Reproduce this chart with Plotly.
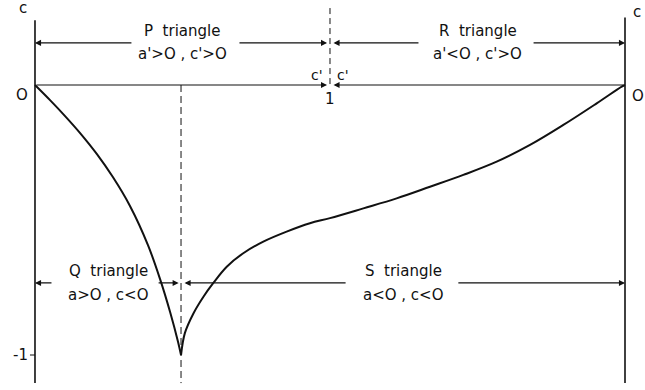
import plotly.graph_objects as go

# Curve c(x): descending branch from the origin down to the cusp ...
left_x = [0.0, 0.051, 0.102, 0.153, 0.210, 0.264, 0.322, 0.383, 0.424, 0.458, 0.485, 0.495]
left_y = [0.0, -0.056, -0.115, -0.178, -0.256, -0.341, -0.448, -0.593, -0.719, -0.841, -0.952, -1.0]
# ... and rising branch from the cusp back to c = 0 at x = 2
right_x = [0.495, 0.508, 0.537, 0.571, 0.604, 0.650, 0.706, 0.774, 0.853, 0.932, 1.0,
           1.113, 1.226, 1.339, 1.452, 1.565, 1.678, 1.791, 1.904, 1.989, 2.0]
right_y = [-1.0, -0.919, -0.846, -0.784, -0.734, -0.673, -0.623, -0.580, -0.543, -0.512, -0.493,
           -0.457, -0.420, -0.377, -0.333, -0.284, -0.222, -0.148, -0.068, -0.006, 0.0]

# Region labels: (name, condition, x centre)
region_names = ["P triangle", "R triangle", "Q triangle", "S triangle"]
region_conds = ["a'>O , c'>O", "a'<O , c'>O", "a>O , c<O", "a<O , c<O"]
region_x = [0.5, 1.5, 0.25, 1.25]
upper_row, lower_row = 0.156, -0.733

# Boundaries
x_left, x_cusp, x_mid, x_right = 0.0, 0.495, 1.0, 2.0
y_top, y_bottom = 0.24, -1.104

FONT = "DejaVu Sans"
INK = "#111111"

fig = go.Figure()
for bx, by in ((left_x, left_y), (right_x, right_y)):
    fig.add_trace(go.Scatter(x=bx, y=by, mode="lines",
                             line=dict(color=INK, width=2, shape="spline", smoothing=1.0),
                             hoverinfo="skip", showlegend=False))

shapes = [
    # vertical axes
    dict(type="line", x0=x_left, x1=x_left, y0=y_top, y1=y_bottom, line=dict(color=INK, width=1.6)),
    dict(type="line", x0=x_right, x1=x_right, y0=y_top + 0.01, y1=y_bottom, line=dict(color=INK, width=1.6)),
    # dashed dividers
    dict(type="line", x0=x_mid, x1=x_mid, y0=0.285, y1=0.0, line=dict(color=INK, width=1, dash="6px,4px")),
    dict(type="line", x0=x_cusp, x1=x_cusp, y0=0.0, y1=y_bottom, line=dict(color=INK, width=1, dash="7px,4px")),
    # tick at -1
    dict(type="line", x0=-0.017, x1=x_left, y0=-1.0, y1=-1.0, line=dict(color=INK, width=1)),
]

annotations = []


def arrow(tail, head, y):
    annotations.append(dict(x=head, y=y, ax=tail, ay=y, xref="x", yref="y",
                            axref="x", ayref="y", text="", showarrow=True,
                            arrowhead=2, arrowsize=1.1, arrowwidth=1.1,
                            arrowcolor=INK, standoff=0, startstandoff=0))


# P / R row
arrow(0.332, x_left, upper_row)
arrow(0.688, x_mid - 0.01, upper_row)
arrow(1.305, x_mid + 0.012, upper_row)
arrow(1.685, x_right, upper_row)
# c = 0 line, meeting at x = 1
arrow(x_left, x_mid - 0.01, 0.0)
arrow(x_right, x_mid + 0.012, 0.0)
# Q / S row
arrow(0.061, x_left, lower_row)
arrow(0.414, x_cusp - 0.008, lower_row)
arrow(1.058, x_cusp + 0.012, lower_row)
arrow(1.43, x_right, lower_row)


def label(x, y, text, size=15):
    annotations.append(dict(x=x, y=y, xref="x", yref="y", text=text, showarrow=False,
                            font=dict(family=FONT, size=size, color=INK),
                            xanchor="center", yanchor="middle"))


for name, cond, cx, row in zip(region_names, region_conds, region_x,
                               [upper_row, upper_row, lower_row, lower_row]):
    label(cx, row + 0.043, name.replace(" ", "  "))
    label(cx, row - 0.043, cond)

label(-0.041, 0.285, "c")
label(2.041, 0.27, "c")
label(-0.045, -0.037, "O")
label(2.043, -0.041, "O")
label(-0.05, -1.0, "-1")
label(0.956, 0.037, "c'", 14)
label(1.043, 0.037, "c'", 14)
label(1.0, -0.052, "1")

fig.update_layout(
    width=645, height=390,
    margin=dict(l=0, r=0, t=0, b=0),
    paper_bgcolor="white", plot_bgcolor="white",
    xaxis=dict(range=[-0.1186, 2.0678], visible=False, fixedrange=True),
    yaxis=dict(range=[-1.1296, 0.3148], visible=False, fixedrange=True),
    shapes=shapes, annotations=annotations, showlegend=False,
)

fig.write_html("out.html")
